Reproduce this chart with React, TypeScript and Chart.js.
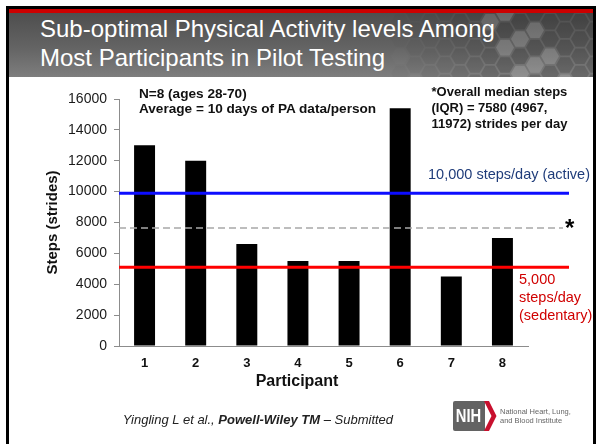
import React, { useEffect, useRef } from "react";
import { Chart, registerables } from "chart.js";

Chart.register(...registerables);

const FONT = "'Liberation Sans', Arial, Helvetica, sans-serif";

// ---- data ----
const participants = ["1", "2", "3", "4", "5", "6", "7", "8"];
const medianDailySteps = [13000, 12000, 6600, 5500, 5500, 15400, 4500, 7000];
const yMin = 0;
const yMax = 16000;
const yStep = 2000;
const activeThreshold = 9900;
const overallMedian = 7650;
const sedentaryThreshold = 5100;

// ---- texts ----
const titleLines = ["Sub-optimal Physical Activity levels Among", "Most Participants in Pilot Testing"];
const noteLeft = ["N=8 (ages 28-70)", "Average = 10 days of PA data/person"];
const noteRight = ["*Overall median steps", "(IQR) = 7580 (4967,", "11972) strides per day"];
const activeLabel = "10,000 steps/day (active)";
const sedentaryLabel = ["5,000", "steps/day", "(sedentary)"];
const yTitle = "Steps (strides)";
const xTitle = "Participant";

const refLinesPlugin = {
  id: "refLines",
  afterDatasetsDraw(chart: any) {
    const { ctx, chartArea, scales } = chart;
    const y = scales.y;
    const left = chartArea.left;
    const right = chartArea.right;
    ctx.save();
    // median dashed
    const ym = y.getPixelForValue(overallMedian);
    ctx.strokeStyle = "#a8a8a8";
    ctx.lineWidth = 1.5;
    ctx.setLineDash([7, 4]);
    ctx.beginPath();
    ctx.moveTo(left, ym);
    ctx.lineTo(right + 35, ym);
    ctx.stroke();
    ctx.setLineDash([]);
    // asterisk
    ctx.fillStyle = "#000";
    ctx.font = `bold 24px ${FONT}`;
    ctx.textBaseline = "alphabetic";
    ctx.textAlign = "left";
    ctx.fillText("*", right + 37, ym + 8);
    // active
    const ya = y.getPixelForValue(activeThreshold);
    ctx.strokeStyle = "#0d0dff";
    ctx.lineWidth = 3;
    ctx.beginPath();
    ctx.moveTo(left, ya);
    ctx.lineTo(right + 41, ya);
    ctx.stroke();
    ctx.fillStyle = "#1f3c7a";
    ctx.font = `14.5px ${FONT}`;
    ctx.fillText(activeLabel, right - 100, ya - 14);
    // sedentary
    const ys = y.getPixelForValue(sedentaryThreshold);
    ctx.strokeStyle = "#ff0000";
    ctx.lineWidth = 3;
    ctx.beginPath();
    ctx.moveTo(left, ys);
    ctx.lineTo(right + 41, ys);
    ctx.stroke();
    ctx.fillStyle = "#d00000";
    ctx.font = `14.5px ${FONT}`;
    sedentaryLabel.forEach((t, i) => {
      ctx.fillText(t, right - 9, ys + 17 + i * 18);
    });
    ctx.restore();
  },
};

function Hexagons() {
  const hexes: any[] = [];
  const r = 10;
  const dx = r * 1.5;
  const dy = r * Math.sqrt(3);
  let col = 0;
  for (let cx = 385; cx < 600; cx += dx, col++) {
    const off = col % 2 ? dy / 2 : 0;
    for (let cy = 13 - dy + off; cy < 90; cy += dy) {
      const pts: string[] = [];
      for (let k = 0; k < 6; k++) {
        const a = (Math.PI / 3) * k;
        pts.push(`${(cx + (r - 1) * Math.cos(a)).toFixed(1)},${(cy + (r - 1) * Math.sin(a)).toFixed(1)}`);
      }
      const f = Math.min(1, (cx - 385) / 120);
      const idx = (col * 7 + Math.round(cy) * 3) % 5;
      const fill = idx === 0 ? `rgba(255,255,255,${0.14 * f})` : `rgba(0,0,0,${0.16 * f})`;
      hexes.push(<polygon key={`${cx}-${cy}`} points={pts.join(" ")} fill={fill} />);
    }
  }
  return (
    <svg width={596} height={444} style={{ position: "absolute", left: 0, top: 0 }}>
      <clipPath id="hdrclip">
        <rect x={9} y={13} width={584} height={64} />
      </clipPath>
      <g clipPath="url(#hdrclip)">{hexes}</g>
    </svg>
  );
}

export default function App() {
  const canvasRef = useRef<HTMLCanvasElement | null>(null);

  useEffect(() => {
    if (!canvasRef.current) return;
    Chart.defaults.font.family = FONT;
    const chart = new Chart(canvasRef.current, {
      type: "bar",
      data: {
        labels: participants,
        datasets: [
          {
            data: medianDailySteps,
            backgroundColor: "#000000",
            borderWidth: 0,
            barPercentage: 0.41,
            categoryPercentage: 1,
          },
        ],
      },
      options: {
        animation: false,
        responsive: false,
        devicePixelRatio: 1,
        layout: { padding: { left: 40, right: 68, top: 99, bottom: 68 } },
        plugins: { legend: { display: false }, tooltip: { enabled: false }, title: { display: false } },
        scales: {
          x: {
            ticks: { font: { size: 13, weight: "bold" }, color: "#111", padding: 10 },
            grid: { drawOnChartArea: false, drawTicks: false, color: "#8c8c8c" },
            border: { display: true, color: "#8c8c8c", width: 1 },
            afterFit: (scale: any) => {
              scale.height = 30;
            },
          },
          y: {
            min: yMin,
            max: yMax,
            ticks: {
              stepSize: yStep,
              font: { size: 14 },
              color: "#1a1a1a",
              padding: 7,
              callback: (v: any) => String(v),
            },
            grid: { drawOnChartArea: false, drawTicks: true, tickLength: 5, color: "#8c8c8c" },
            border: { display: true, color: "#8c8c8c", width: 1 },
            title: {
              display: true,
              text: yTitle,
              font: { size: 15, weight: "bold" },
              color: "#111",
              padding: { top: 4, bottom: 4 },
            },
            afterFit: (scale: any) => {
              scale.width = 79;
            },
          },
        },
      },
      plugins: [refLinesPlugin],
    } as any);
    return () => chart.destroy();
  }, []);

  return (
    <div
      style={{
        position: "fixed",
        left: 0,
        top: 0,
        width: 596,
        height: 444,
        background: "#fff",
        overflow: "hidden",
        fontFamily: FONT,
      }}
    >
      {/* frame */}
      <div
        style={{
          position: "absolute",
          left: 6,
          top: 6,
          width: 590,
          height: 450,
          borderLeft: "3px solid #000",
          borderTop: "3px solid #000",
          borderRight: "3px solid #000",
          boxSizing: "border-box",
        }}
      />
      <div style={{ position: "absolute", left: 9, top: 9, width: 584, height: 4, background: "#cc0000" }} />
      <div
        style={{
          position: "absolute",
          left: 9,
          top: 13,
          width: 584,
          height: 64,
          background: "linear-gradient(to bottom, #4e4e4e 0%, #646464 55%, #7e7e7e 100%)",
        }}
      />
      <Hexagons />
      <div
        style={{
          position: "absolute",
          left: 40,
          top: 13.9,
          fontSize: 24,
          lineHeight: "29px",
          color: "#fff",
          whiteSpace: "nowrap",
        }}
      >
        {titleLines.map((t) => (
          <div key={t}>{t}</div>
        ))}
      </div>

      <canvas
        ref={canvasRef}
        width={596}
        height={444}
        style={{ position: "absolute", left: 0, top: 0, width: 596, height: 444 }}
      />

      <div
        style={{
          position: "absolute",
          left: 139,
          top: 86.3,
          fontSize: 13.6,
          fontWeight: "bold",
          lineHeight: "15px",
          color: "#111",
          whiteSpace: "nowrap",
        }}
      >
        {noteLeft.map((t) => (
          <div key={t}>{t}</div>
        ))}
      </div>
      <div
        style={{
          position: "absolute",
          left: 431.5,
          top: 84.4,
          fontSize: 13,
          fontWeight: "bold",
          lineHeight: "15.7px",
          color: "#111",
          whiteSpace: "nowrap",
        }}
      >
        {noteRight.map((t) => (
          <div key={t}>{t}</div>
        ))}
      </div>

      <div
        style={{
          position: "absolute",
          left: 197,
          width: 200,
          top: 371.3,
          textAlign: "center",
          fontSize: 16,
          fontWeight: "bold",
          lineHeight: "19.2px",
          color: "#111",
        }}
      >
        {xTitle}
      </div>

      <div
        style={{
          position: "absolute",
          left: 122.7,
          top: 412,
          fontSize: 13,
          fontStyle: "italic",
          lineHeight: "15px",
          color: "#222",
          whiteSpace: "nowrap",
        }}
      >
        Yingling L et al., <b>Powell-Wiley TM</b> – Submitted
      </div>

      {/* NIH logo */}
      <div
        style={{
          position: "absolute",
          left: 452.5,
          top: 401,
          width: 32,
          height: 30,
          background: "#636363",
          borderRadius: "2px 0 0 2px",
          color: "#fff",
          fontWeight: "bold",
          fontSize: 18,
          lineHeight: "30px",
          textAlign: "center",
        }}
      >
        <span style={{ display: "inline-block", transform: "scaleX(0.82)" }}>NIH</span>
      </div>
      <svg width={596} height={444} style={{ position: "absolute", left: 0, top: 0, pointerEvents: "none" }}>
        <polygon points="484,401 489,401 496.5,416 489,431 484,431 491.5,416" fill="#c8102e" />
      </svg>
      <div
        style={{
          position: "absolute",
          left: 500,
          top: 407,
          fontSize: 7.5,
          lineHeight: "9.3px",
          color: "#666",
          whiteSpace: "nowrap",
        }}
      >
        <div>National Heart, Lung,</div>
        <div>and Blood Institute</div>
      </div>
    </div>
  );
}
